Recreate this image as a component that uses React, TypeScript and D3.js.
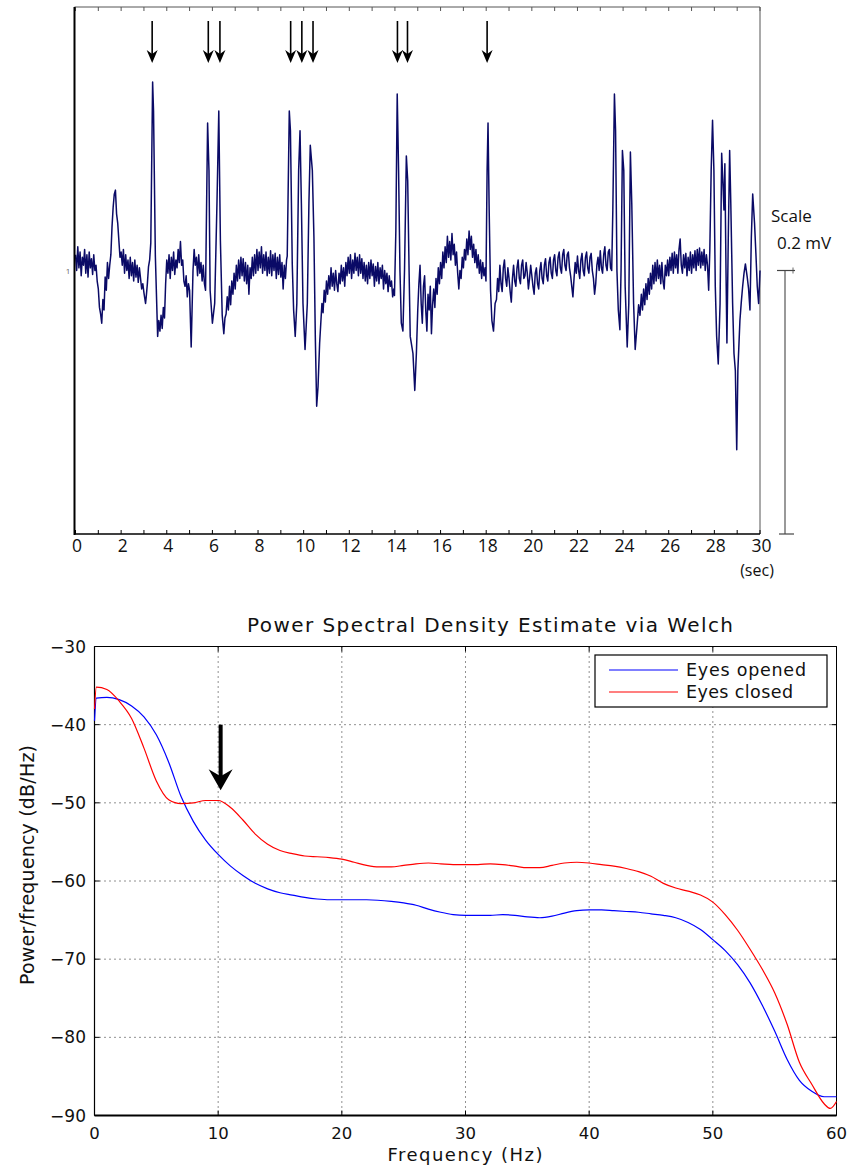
import React from 'react';
import * as d3 from 'd3';

// ---------- EEG trace (time in s, amplitude in µV) ----------
const eegSamples: [number, number][] = [
  [0, 12], [0.05, 0], [0.1, 18], [0.15, 2], [0.2, 14], [0.25, -4], [0.3, 10], [0.35, 4], [0.4, 16], [0.45, -2],
  [0.5, 12], [0.55, -5], [0.6, 14], [0.65, 2], [0.7, 9], [0.75, -3], [0.8, 12], [0.85, 0], [0.9, 4], [0.95, -8],
  [1.0, -14], [1.05, -28], [1.1, -33], [1.15, -40], [1.2, -22], [1.25, -30], [1.3, -5], [1.35, -15], [1.4, 6], [1.45, -6], [1.5, 4],
  [1.55, 12], [1.6, 33], [1.65, 48], [1.7, 58], [1.75, 61], [1.8, 43], [1.85, 36], [1.9, 23], [1.95, 10],
  [2.0, 14], [2.05, 4], [2.1, 16], [2.15, -2], [2.2, 12], [2.25, 0], [2.3, 8], [2.35, -6], [2.4, 10], [2.45, -4],
  [2.5, 6], [2.55, -8], [2.6, 8], [2.65, -5], [2.7, 4], [2.75, -9], [2.8, 2], [2.85, -6], [2.9, -14], [2.95, -10],
  [3.0, -17], [3.07, -25], [3.1, -20], [3.15, -10], [3.2, 3], [3.25, 8], [3.3, 21], [3.38, 143], [3.42, 121], [3.5, 11],
  [3.6, -50], [3.65, -38], [3.7, -46], [3.75, -34], [3.8, -44], [3.85, -28], [3.9, -36], [3.95, -10],
  [4.0, 8], [4.05, -2], [4.1, 12], [4.15, -6], [4.2, 10], [4.25, 0], [4.3, 14], [4.35, -3], [4.4, 8], [4.45, 2],
  [4.5, 16], [4.55, 6], [4.6, 22], [4.65, 4], [4.7, 8], [4.75, -8], [4.8, -12], [4.85, -4], [4.9, -20], [4.95, -10],
  [5.0, -15], [5.07, -58], [5.15, 0], [5.2, 16], [5.25, 4], [5.3, 10], [5.35, -4], [5.4, 12], [5.45, -2], [5.5, 6],
  [5.55, -8], [5.6, 4], [5.65, -10], [5.7, -15],
  [5.79, 112], [5.85, 76], [5.9, -15], [6.0, -40], [6.1, -25], [6.2, 51], [6.28, 121], [6.35, 23], [6.43, -34], [6.5, -48],
  [6.55, -36], [6.6, -33], [6.65, -20], [6.7, -30], [6.75, -12], [6.8, -26], [6.85, -8], [6.9, -18], [6.95, -2],
  [7.0, -14], [7.05, 4], [7.1, -8], [7.15, 8], [7.2, -6], [7.25, 10], [7.3, -4], [7.35, 9], [7.4, -8], [7.45, 6],
  [7.5, -10], [7.55, 4], [7.6, -18], [7.65, 2], [7.7, -6], [7.75, 10], [7.8, -4], [7.85, 12], [7.9, -2], [7.95, 16],
  [8.0, 0], [8.05, 14], [8.1, 2], [8.15, 18], [8.2, -2], [8.25, 12], [8.3, 0], [8.35, 14], [8.4, -4], [8.45, 10],
  [8.5, -2], [8.55, 15], [8.6, -4], [8.65, 12], [8.7, 0], [8.75, 13], [8.8, -6], [8.85, 10], [8.9, -3], [8.95, 12],
  [9.0, -5], [9.05, 6], [9.1, -14], [9.15, 4], [9.2, -6], [9.25, 8],
  [9.28, 11], [9.37, 121], [9.42, 106], [9.5, 5], [9.56, -30], [9.63, -50], [9.7, -25], [9.78, 76], [9.84, 106], [9.9, 51],
  [9.97, -25], [10.06, -60], [10.16, -25], [10.23, 51], [10.29, 95], [10.38, 76], [10.45, 25], [10.51, -50], [10.57, -103],
  [10.63, -88], [10.7, -55], [10.75, -40], [10.8, -25], [10.85, -32], [10.9, -15], [10.95, -24],
  [11.0, -8], [11.05, -18], [11.1, -4], [11.15, -14], [11.2, 2], [11.25, -12], [11.3, -2], [11.35, -15], [11.4, 0], [11.45, -10],
  [11.5, -16], [11.55, -2], [11.6, -10], [11.65, 4], [11.7, -8], [11.75, 2], [11.8, -12], [11.85, 6], [11.9, -4], [11.95, 10],
  [12.0, -2], [12.05, 12], [12.1, -6], [12.15, 8], [12.2, -2], [12.25, 13], [12.3, 0], [12.35, 10], [12.4, -4], [12.45, 12],
  [12.5, -2], [12.55, 9], [12.6, -6], [12.65, 6], [12.7, -8], [12.75, 4], [12.8, -10], [12.85, 6], [12.9, -6], [12.95, 8],
  [13.0, -4], [13.05, 5], [13.1, -12], [13.15, 3], [13.2, -8], [13.25, 6], [13.3, -10], [13.35, 2], [13.4, -6], [13.45, 4],
  [13.5, -14], [13.55, 0], [13.6, -10], [13.65, -2], [13.7, -16], [13.75, -4], [13.8, -12], [13.85, -8], [13.9, -20], [13.95, -14],
  [13.98, -19], [14.04, 30], [14.1, 134], [14.16, 76], [14.22, 0], [14.28, -40], [14.35, -46], [14.42, 0], [14.5, 87],
  [14.56, 68], [14.62, 0], [14.67, -50], [14.79, -63], [14.87, -91], [14.94, -63], [15.0, -30],
  [15.05, -10], [15.1, 4], [15.15, -25], [15.2, -40], [15.25, -12], [15.3, -4], [15.35, -30], [15.4, -46], [15.45, -18], [15.5, -30],
  [15.55, -12], [15.6, -48], [15.65, -26], [15.7, -14], [15.75, -28], [15.8, -6], [15.85, -18], [15.9, 2], [15.95, -10],
  [16.0, 6], [16.05, -6], [16.1, 14], [16.15, 2], [16.2, 18], [16.25, 6], [16.3, 26], [16.35, 10], [16.4, 22], [16.45, 8],
  [16.5, 28], [16.55, 12], [16.6, 20], [16.65, 4], [16.7, 14], [16.75, -2], [16.8, -14], [16.85, 0], [16.9, -6], [16.95, 10],
  [17.0, 2], [17.05, 16], [17.1, 8], [17.15, 24], [17.2, 12], [17.25, 30], [17.3, 16], [17.35, 26], [17.4, 10], [17.45, 20],
  [17.5, 6], [17.55, 16], [17.6, 2], [17.65, 12], [17.7, -2], [17.75, 8], [17.8, -6], [17.85, 6], [17.9, -4], [17.95, 2], [17.99, -8],
  [18.04, 76], [18.08, 112], [18.13, 46], [18.19, -15], [18.25, -38], [18.32, -46], [18.39, -25], [18.45, -22],
  [18.5, -6], [18.55, -16], [18.6, 4], [18.65, -10], [18.7, -16], [18.75, 2], [18.8, 8], [18.85, -6], [18.9, -12], [18.95, 2],
  [19.0, -6], [19.05, -16], [19.1, -24], [19.15, -6], [19.2, 4], [19.25, -8], [19.3, -12], [19.35, 2], [19.4, 8], [19.45, -6],
  [19.5, -10], [19.55, 4], [19.6, 8], [19.65, -6], [19.7, -4], [19.75, 6], [19.8, -2], [19.85, -14], [19.9, -6], [19.95, 4],
  [20.0, -4], [20.05, -12], [20.1, -18], [20.15, -2], [20.2, 2], [20.25, -10], [20.3, -14], [20.35, 0], [20.4, 6], [20.45, -6],
  [20.5, -10], [20.55, 4], [20.6, 9], [20.65, -4], [20.7, -8], [20.75, 6], [20.8, 10], [20.85, -2], [20.9, -6], [20.95, 8],
  [21.0, 12], [21.05, 0], [21.1, -4], [21.15, 10], [21.2, 14], [21.25, 2], [21.3, -2], [21.35, 12], [21.4, 16], [21.45, 4],
  [21.5, 0], [21.55, 12], [21.6, 14], [21.65, 2], [21.7, -4], [21.75, -12], [21.8, -20], [21.85, -6], [21.9, 6], [21.95, -2],
  [22.0, 11], [22.05, 0], [22.1, -6], [22.15, 8], [22.2, 13], [22.25, 0], [22.3, -4], [22.35, 10], [22.4, 14], [22.45, 2],
  [22.5, -2], [22.55, 10], [22.6, 13], [22.65, 0], [22.7, -6], [22.75, -18], [22.8, -10], [22.85, 4], [22.9, 10], [22.95, 0],
  [23.0, 15], [23.05, 2], [23.1, -2], [23.15, 12], [23.2, 18], [23.25, 4], [23.3, 0], [23.35, 14], [23.4, 16], [23.45, 2], [23.5, 0],
  [23.55, 46], [23.62, 134], [23.67, 106], [23.73, 0], [23.79, -30], [23.86, -45], [23.91, 0], [23.97, 91], [24.03, 76],
  [24.09, -12], [24.18, -58], [24.25, -25], [24.32, 90], [24.38, 51], [24.46, -25], [24.53, -60], [24.62, -40],
  [24.68, -26], [24.74, -34], [24.8, -18], [24.85, -30], [24.9, -14], [24.95, -26], [25.0, -10], [25.05, -22], [25.1, -6],
  [25.15, -18], [25.2, -2], [25.25, -14], [25.3, 4], [25.35, -10], [25.4, 6], [25.45, -8], [25.5, 8], [25.55, -6], [25.6, 4],
  [25.65, -10], [25.7, 6], [25.75, -8], [25.8, -14], [25.85, 4], [25.9, -4], [25.95, 8], [26.0, -4], [26.05, 10], [26.1, 0],
  [26.15, 13], [26.2, -2], [26.25, 14], [26.3, 2], [26.35, 12], [26.4, -2], [26.45, 16], [26.5, 24], [26.55, 4], [26.6, -2],
  [26.65, 12], [26.7, 2], [26.75, 13], [26.8, -4], [26.85, 10], [26.9, 0], [26.95, 14], [27.0, -2], [27.05, 12], [27.1, 2],
  [27.15, 15], [27.2, 0], [27.25, 16], [27.3, 4], [27.35, 17], [27.4, 2], [27.45, 14], [27.5, 4], [27.55, 16], [27.6, 0],
  [27.65, 12], [27.7, 4], [27.75, -15], [27.8, 15],
  [27.86, 76], [27.92, 114], [27.98, 76], [28.04, -12], [28.1, -50], [28.17, -71], [28.25, -25], [28.32, 89], [28.37, 68],
  [28.42, 46], [28.46, 81], [28.51, 0], [28.55, -55], [28.61, 25], [28.67, 91], [28.72, 51], [28.8, -25], [28.86, -63],
  [28.92, -76], [28.98, -136], [29.03, -76], [29.12, -38], [29.18, -24], [29.24, -12], [29.3, -2], [29.36, 5], [29.44, -5], [29.5, -14], [29.56, -30],
  [29.62, 25], [29.68, 58], [29.76, 36], [29.82, 13], [29.88, -12], [29.94, -25], [30.0, 0],
];
const spikeArrowTimes = [3.36, 5.82, 6.33, 9.43, 9.92, 10.41, 14.11, 14.55, 18.04];
const eegLabelTicks = [0, 2, 4, 6, 8, 10, 12, 14, 16, 18, 20, 22, 24, 26, 28, 30];
const eegSecondTicks = [0, 1, 2, 3, 4, 5, 6, 7, 8, 9, 10, 11, 12, 13, 14, 15, 16, 17, 18, 19, 20, 21, 22, 23, 24, 25, 26, 27, 28, 29, 30];
const scaleBarUv = 200; // 0.2 mV

// ---------- PSD (Hz, dB/Hz) ----------
const eyesOpenedPsd: [number, number][] = [
  [0, -39.5], [0.15, -36.6], [1, -36.5], [2, -36.8], [3, -37.6], [4, -39.0], [5, -41.3], [6, -44.8], [7, -49.2],
  [8, -52.4], [9, -54.8], [10, -56.6], [11, -58.1], [12, -59.3], [13, -60.3], [14, -61.0], [15, -61.5], [16, -61.8],
  [17, -62.1], [18, -62.3], [19, -62.4], [20, -62.4], [22, -62.4], [24, -62.6], [25, -62.8], [26, -63.1], [27, -63.6],
  [28, -64.0], [29, -64.3], [30, -64.4], [32, -64.4], [33, -64.3], [34, -64.4], [35, -64.6], [36, -64.7], [37, -64.5],
  [38, -64.1], [39, -63.8], [40, -63.7], [41, -63.7], [42, -63.8], [43, -63.9], [44, -64.0], [45, -64.2], [46, -64.4],
  [47, -64.7], [48, -65.3], [49, -66.2], [50, -67.5], [51, -68.9], [52, -70.7], [53, -73.0], [54, -75.9], [55, -79.2],
  [56, -82.8], [57, -85.5], [58, -86.9], [59, -87.6], [60, -87.6],
];
const eyesClosedPsd: [number, number][] = [
  [0, -38.0], [0.15, -35.2], [1, -35.5], [2, -37.0], [3, -39.2], [4, -43.0], [5, -47.2], [6, -49.6], [7, -50.1],
  [8, -50.0], [9, -49.7], [10, -49.7], [11, -50.6], [12, -52.2], [13, -54.0], [14, -55.3], [15, -56.1], [16, -56.5],
  [17, -56.8], [18, -56.9], [19, -57.0], [20, -57.2], [21, -57.6], [22, -58.0], [23, -58.2], [24, -58.2], [25, -58.0],
  [26, -57.8], [27, -57.7], [28, -57.8], [29, -57.9], [30, -57.9], [31, -57.9], [32, -57.8], [33, -57.9], [34, -58.1],
  [35, -58.3], [36, -58.3], [37, -58.0], [38, -57.7], [39, -57.6], [40, -57.7], [41, -57.9], [42, -58.1], [43, -58.4],
  [44, -58.8], [45, -59.4], [46, -60.3], [47, -60.9], [48, -61.3], [49, -61.8], [50, -62.7], [51, -64.3], [52, -66.3],
  [53, -68.7], [54, -71.3], [55, -74.3], [56, -78.3], [57, -83.2], [58, -86.0], [59, -88.5], [59.5, -89.1], [60, -88.2],
];
const freqTicks = [0, 10, 20, 30, 40, 50, 60];
const dbTicks = [-30, -40, -50, -60, -70, -80, -90];
const alphaArrow = { freq: 10.2, from: -40, to: -48.4 };
const legendItems = [
  { label: 'Eyes opened', color: '#0000ff' },
  { label: 'Eyes closed', color: '#ff0000' },
];

const SANS = "'Open Sans', 'DejaVu Sans', sans-serif";
const DEJA = "'DejaVu Sans', 'Liberation Sans', sans-serif";

export default function App() {
  // ---- top panel scales ----
  const xT = d3.scaleLinear().domain([0, 30]).range([75.5, 760]);
  const yT = d3.scaleLinear().domain([-200, 200]).range([534, 7]);
  const eegLine = d3.line<[number, number]>().x(d => xT(d[0])).y(d => yT(d[1]));

  // ---- PSD scales ----
  const xP = d3.scaleLinear().domain([0, 60]).range([94.5, 836.5]);
  const yP = d3.scaleLinear().domain([-90, -30]).range([1115.5, 646.5]);
  const psdLine = d3.line<[number, number]>().x(d => xP(d[0])).y(d => yP(d[1])).curve(d3.curveMonotoneX);

  const topY = yT(200);
  const botY = yT(-200);
  const sbX = 785;
  const sbTop = yT(0);
  const sbBot = yT(-scaleBarUv);

  const ax = xP(alphaArrow.freq);
  const ay0 = yP(alphaArrow.from);
  const ay1 = yP(alphaArrow.to);

  return (
    <svg width={849} height={1168} style={{ position: 'absolute', left: 0, top: 0, background: '#fff' }}>
      <rect x={0} y={0} width={849} height={1168} fill="#fff" />

      {/* ======== EEG panel ======== */}
      <line x1={xT(0) - 1} x2={xT(30)} y1={topY} y2={topY} stroke="#555" strokeWidth={1} />
      {eegSecondTicks.map(t => (
        <line key={'tt' + t} x1={xT(t)} x2={xT(t)} y1={topY} y2={topY + 4} stroke="#555" strokeWidth={1} />
      ))}
      <line x1={xT(30)} x2={xT(30)} y1={topY} y2={botY} stroke="#555" strokeWidth={1} />
      <path d={eegLine(eegSamples) || ''} fill="none" stroke="#0a0a66" strokeWidth={1.5} strokeLinejoin="round" />
      <line x1={74.5} x2={74.5} y1={topY} y2={botY + 1} stroke="#000" strokeWidth={2} />
      <line x1={74} x2={xT(30)} y1={botY} y2={botY} stroke="#000" strokeWidth={1.5} />
      {eegSecondTicks.map(t => (
        <line key={'bt' + t} x1={xT(t)} x2={xT(t)} y1={botY} y2={botY - 4} stroke="#000" strokeWidth={1} />
      ))}
      {eegLabelTicks.map(t => (
        <text key={'bl' + t} x={xT(t) + 1.5} y={botY + 18} textAnchor="middle" fontFamily={SANS} fontSize={17.5} fill="#111">
          {t}
        </text>
      ))}
      <text x={757} y={576} textAnchor="middle" fontFamily={SANS} fontSize={16} fill="#111">(sec)</text>
      <text x={68} y={yT(0) + 3} textAnchor="middle" fontFamily={SANS} fontSize={8} fill="#666">1</text>

      {/* spike arrows */}
      {spikeArrowTimes.map((t, i) => {
        const x = xT(t);
        const tip = 63;
        return (
          <g key={'ar' + i}>
            <line x1={x} x2={x} y1={21} y2={tip - 8} stroke="#000" strokeWidth={1.6} />
            <path d={`M${x},${tip} L${x - 5.5},${tip - 13} L${x},${tip - 9} L${x + 5.5},${tip - 13} Z`} fill="#000" />
          </g>
        );
      })}

      {/* scale bar */}
      <text x={771} y={222} fontFamily={SANS} fontSize={17} fill="#111">Scale</text>
      <text x={777} y={249} fontFamily={SANS} fontSize={17} fill="#111">0.2 mV</text>
      <line x1={sbX} x2={sbX} y1={sbTop} y2={sbBot} stroke="#555" strokeWidth={1.2} />
      <line x1={777} x2={795} y1={sbTop} y2={sbTop} stroke="#444" strokeWidth={1.2} />
      <line x1={793} x2={793} y1={sbTop - 3} y2={sbTop + 3} stroke="#444" strokeWidth={0.8} />
      <line x1={779} x2={794} y1={sbBot} y2={sbBot} stroke="#444" strokeWidth={1.2} />

      {/* ======== PSD panel ======== */}
      <text x={490} y={632} textAnchor="middle" fontFamily={DEJA} fontSize={20} fill="#111" textLength={486} lengthAdjust="spacing">
        Power Spectral Density Estimate via Welch
      </text>
      {/* grid */}
      {freqTicks.filter(f => f > 0 && f < 60).map(f => (
        <line key={'gx' + f} x1={xP(f)} x2={xP(f)} y1={yP(-30)} y2={yP(-90)} stroke="#222" strokeWidth={1} strokeDasharray="1,4" />
      ))}
      {dbTicks.filter(v => v > -90 && v < -30).map(v => (
        <line key={'gy' + v} x1={xP(0)} x2={xP(60)} y1={yP(v)} y2={yP(v)} stroke="#222" strokeWidth={1} strokeDasharray="1,4" />
      ))}
      {/* box */}
      <line x1={xP(0)} x2={xP(60)} y1={yP(-30)} y2={yP(-30)} stroke="#000" strokeWidth={1} />
      <line x1={xP(60)} x2={xP(60)} y1={yP(-30)} y2={yP(-90)} stroke="#000" strokeWidth={1} />
      <line x1={xP(0)} x2={xP(0)} y1={yP(-30)} y2={yP(-90)} stroke="#000" strokeWidth={1.2} />
      <line x1={xP(0)} x2={xP(60)} y1={yP(-90)} y2={yP(-90)} stroke="#000" strokeWidth={2} />
      {freqTicks.map(f => (
        <g key={'tx' + f}>
          <line x1={xP(f)} x2={xP(f)} y1={yP(-90)} y2={yP(-90) - 5} stroke="#000" />
          <line x1={xP(f)} x2={xP(f)} y1={yP(-30)} y2={yP(-30) + 5} stroke="#000" />
          <text x={xP(f)} y={1139} textAnchor="middle" fontFamily={DEJA} fontSize={16.5} fill="#111">{f}</text>
        </g>
      ))}
      {dbTicks.map(v => (
        <g key={'ty' + v}>
          <line x1={xP(0)} x2={xP(0) + 5} y1={yP(v)} y2={yP(v)} stroke="#000" />
          <line x1={xP(60)} x2={xP(60) - 5} y1={yP(v)} y2={yP(v)} stroke="#000" />
          <text x={86} y={yP(v) + 6} textAnchor="end" fontFamily={DEJA} fontSize={17} fill="#111">
            {'\u2212' + Math.abs(v)}
          </text>
        </g>
      ))}
      {/* curves */}
      <path d={psdLine(eyesOpenedPsd) || ''} fill="none" stroke="#0000ff" strokeWidth={1.2} />
      <path d={psdLine(eyesClosedPsd) || ''} fill="none" stroke="#ff0000" strokeWidth={1.2} />

      {/* alpha arrow */}
      <rect x={ax - 2} y={ay0} width={4} height={ay1 - ay0 - 12} fill="#000" />
      <path d={`M${ax},${ay1} L${ax - 12},${ay1 - 21} L${ax},${ay1 - 14} L${ax + 12},${ay1 - 21} Z`} fill="#000" />

      {/* legend */}
      <rect x={595} y={655} width={232} height={52} fill="#fff" stroke="#000" strokeWidth={1.2} />
      {legendItems.map((it, i) => (
        <g key={it.label}>
          <line x1={609} x2={678} y1={670 + i * 22} y2={670 + i * 22} stroke={it.color} strokeWidth={1.2} />
          <text x={686} y={676 + i * 22} fontFamily={DEJA} fontSize={17.5} fill="#111" textLength={i === 0 ? 120 : 107} lengthAdjust="spacing">
            {it.label}
          </text>
        </g>
      ))}

      {/* axis labels */}
      <text x={465} y={1161} textAnchor="middle" fontFamily={DEJA} fontSize={18} fill="#111" textLength={155} lengthAdjust="spacing">
        Frequency (Hz)
      </text>
      <text transform="translate(34,865) rotate(-90)" textAnchor="middle" fontFamily={DEJA} fontSize={19} fill="#111" textLength={240} lengthAdjust="spacing">
        Power/frequency (dB/Hz)
      </text>
    </svg>
  );
}
